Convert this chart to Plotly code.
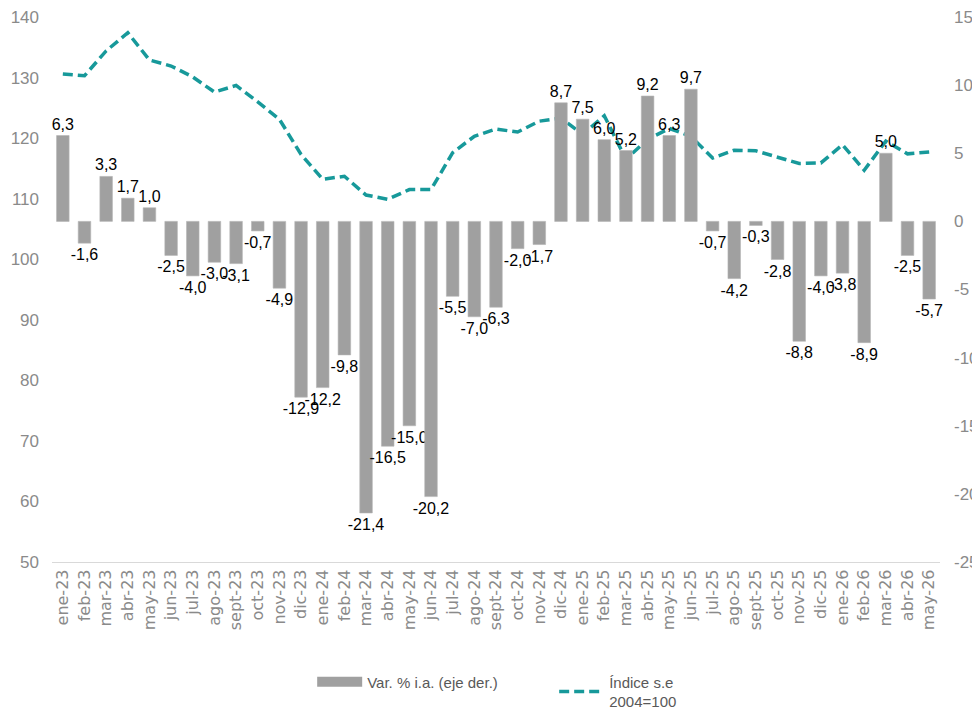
import plotly.graph_objs as go

months = ['ene', 'feb', 'mar', 'abr', 'may', 'jun', 'jul', 'ago', 'sept', 'oct', 'nov', 'dic']
periods = [m + '-' + y for y in ['23', '24', '25'] for m in months] + \
          [m + '-26' for m in months[:5]]

# Var. % i.a. (eje der.)
var_ia = [6.3, -1.6, 3.3, 1.7, 1.0, -2.5, -4.0, -3.0, -3.1, -0.7, -4.9, -12.9,
          -12.2, -9.8, -21.4, -16.5, -15.0, -20.2, -5.5, -7.0, -6.3, -2.0, -1.7, 8.7,
          7.5, 6.0, 5.2, 9.2, 6.3, 9.7, -0.7, -4.2, -0.3, -2.8, -8.8, -4.0,
          -3.8, -8.9, 5.0, -2.5, -5.7]

# Indice s.e 2004=100
indice = [130.6, 130.3, 134.4, 137.4, 132.9, 131.9, 130.1, 127.6, 128.7, 126.0, 123.1, 117.3,
          113.2, 113.7, 110.6, 109.9, 111.5, 111.5, 117.6, 120.3, 121.5, 121.0, 122.8, 123.3,
          120.6, 123.7, 116.5, 119.8, 121.6, 120.3, 116.7, 118.0, 117.9, 116.9, 115.8, 115.9,
          118.9, 114.7, 119.5, 117.4, 117.7]

# right axis ticks (plain hyphen as in the original)
right_vals = [-25, -20, -15, -10, -5, 0, 5, 10, 15]
right_text = ['-25', '-20', '-15', '-10', '-5', '0', '5', '10', '15']

GREY = '#a0a0a0'
TEAL = '#17999a'
TICK = '#8a8a8a'

fig = go.Figure()
fig.add_trace(go.Bar(x=periods, y=var_ia, yaxis='y2', showlegend=False,
                     marker=dict(color=GREY, line=dict(color='#b5b5b5', width=0.6)),
                     width=0.58, texttemplate='%{y:.1f}', textposition='outside',
                     constraintext='none',
                     textfont=dict(color='black', size=16, family='Liberation Sans'),
                     cliponaxis=False))
# legend swatch for the bars (wide grey block like the original)
fig.add_trace(go.Scatter(x=[None], y=[None], mode='lines', name='Var. % i.a. (eje der.)',
                         line=dict(color=GREY, width=12)))
fig.add_trace(go.Scatter(x=periods, y=indice, mode='lines', name='Índice s.e<br>2004=100',
                         line=dict(color=TEAL, width=3.5, dash='10px,5px')))

fig.update_layout(
    width=980, height=716,
    margin=dict(l=44, r=48, t=9, b=162, autoexpand=False),
    plot_bgcolor='white', paper_bgcolor='white',
    separators=',.',
    font=dict(family='Liberation Sans', color=TICK),
    xaxis=dict(type='category', showgrid=False, tickangle=-90, ticks='',
               tickfont=dict(family='DejaVu Sans', size=16, color=TICK),
               showline=True, linecolor='#d9d9d9', linewidth=1.2, automargin=False),
    yaxis=dict(range=[50, 140], dtick=10, showgrid=False, zeroline=False,
               tickfont=dict(size=17, color=TICK), ticklabelstandoff=12,
               ticklabeloverflow='allow', automargin=False),
    yaxis2=dict(range=[-25, 15], tickvals=right_vals, ticktext=right_text,
                overlaying='y', side='right',
                showgrid=False, zeroline=False,
                tickfont=dict(size=17, color=TICK), ticklabelstandoff=13,
                ticklabeloverflow='allow', automargin=False),
    legend=dict(orientation='h', x=0.293, xanchor='left', y=-0.19, yanchor='top',
                font=dict(family='Liberation Sans Narrow, Liberation Sans', size=15,
                          color='#595959'),
                itemwidth=45, entrywidth=182, traceorder='normal'),
)

fig.write_html("out.html")
